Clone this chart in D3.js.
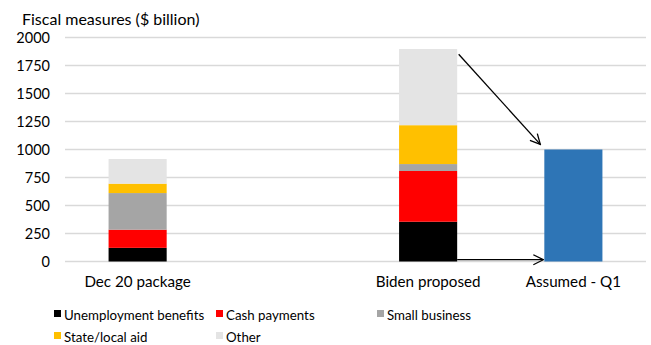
<!DOCTYPE html>
<html>
<head>
<meta charset="utf-8">
<script src="https://cdn.jsdelivr.net/npm/d3@7"></script>
<style>
  body { margin: 0; background: #fff; }
  svg text { font-family: Lato, "Open Sans", sans-serif; fill: #000; }
</style>
</head>
<body>
<div id="chart"></div>
<script>
// categories (one empty slot between Dec 20 and Biden)
var categories = ["Dec 20 package", "", "Biden proposed", "Assumed - Q1"];
var seriesNames = ["Unemployment benefits", "Cash payments", "Small business", "State/local aid", "Other"];
var seriesColors = ["#000000", "#ff0000", "#a5a5a5", "#ffc000", "#e4e4e4"];
// values per series for Dec 20 package, Biden proposed
var unemployment = [122, 355];
var cashPayments = [162, 453];
var smallBusiness = [327, 62];
var stateLocal = [84, 347];
var other = [220, 680];
var assumedQ1 = 1000;
var yTicks = [0, 250, 500, 750, 1000, 1250, 1500, 1750, 2000];

var w = 651;
var h = 345;
var plotLeft = 65, plotRight = 646, plotTop = 37.5, plotBottom = 261.5;

var svg = d3.select("#chart").append("svg").attr("width", w).attr("height", h);

var xScale = d3.scaleBand().domain(categories).range([plotLeft, plotRight]).paddingInner(0.6).paddingOuter(0.3);
var yScale = d3.scaleLinear().domain([0, 2000]).range([plotBottom, plotTop]);

// gridlines
svg.append("g")
  .selectAll("line")
  .data(yTicks)
  .enter()
  .append("line")
  .attr("x1", plotLeft)
  .attr("x2", plotRight)
  .attr("y1", function (d) { return yScale(d); })
  .attr("y2", function (d) { return yScale(d); })
  .attr("stroke", "#d9d9d9")
  .attr("stroke-width", 1.5);

// y axis labels
var yAxis = d3.axisLeft(yScale).tickValues(yTicks).tickSize(0).tickPadding(0).tickFormat(d3.format("d"));
svg.append("g")
  .attr("transform", "translate(50,0)")
  .call(yAxis)
  .call(function (g) { g.select(".domain").remove(); })
  .selectAll("text")
  .attr("fill", "#000")
  .style("font-size", "14.5px")
  .style("font-family", "Lato, sans-serif");

// stacked data
var table = [
  { cat: "Dec 20 package" },
  { cat: "Biden proposed" }
];
var allSeries = [unemployment, cashPayments, smallBusiness, stateLocal, other];
table.forEach(function (row, i) {
  seriesNames.forEach(function (s, j) { row[s] = allSeries[j][i]; });
});
var stacked = d3.stack().keys(seriesNames)(table);

svg.append("g")
  .selectAll("g")
  .data(stacked)
  .enter()
  .append("g")
  .attr("fill", function (d, i) { return seriesColors[i]; })
  .selectAll("rect")
  .data(function (d) { return d; })
  .enter()
  .append("rect")
  .attr("x", function (d) { return xScale(d.data.cat); })
  .attr("y", function (d) { return yScale(d[1]); })
  .attr("width", xScale.bandwidth())
  .attr("height", function (d) { return yScale(d[0]) - yScale(d[1]); });

// assumed Q1 bar
svg.append("rect")
  .attr("x", xScale("Assumed - Q1"))
  .attr("y", yScale(assumedQ1))
  .attr("width", xScale.bandwidth())
  .attr("height", yScale(0) - yScale(assumedQ1))
  .attr("fill", "#2e75b6");

// x labels
svg.append("g")
  .selectAll("text")
  .data(categories.filter(function (c) { return c !== ""; }))
  .enter()
  .append("text")
  .attr("x", function (d) { return xScale(d) + xScale.bandwidth() / 2; })
  .attr("y", 287)
  .attr("text-anchor", "middle")
  .style("font-size", "15.2px")
  .text(function (d) { return d; });

// title
svg.append("text")
  .attr("x", 22)
  .attr("y", 25)
  .style("font-size", "16px")
  .text("Fiscal measures ($ billion)");

// arrows
svg.append("defs").append("marker")
  .attr("id", "arrow")
  .attr("viewBox", "0 0 12 12")
  .attr("refX", 11)
  .attr("refY", 6)
  .attr("markerWidth", 12)
  .attr("markerHeight", 12)
  .attr("markerUnits", "userSpaceOnUse")
  .attr("orient", "auto")
  .append("path")
  .attr("d", "M1,1 L11,6 L1,11")
  .attr("fill", "none")
  .attr("stroke", "#000")
  .attr("stroke-width", 1.3);

var bidenRight = xScale("Biden proposed") + xScale.bandwidth();
var assumedLeft = xScale("Assumed - Q1");
var arrows = [
  { x1: bidenRight + 1.5, v1: 1850, x2: assumedLeft - 4, v2: 1046 },
  { x1: bidenRight, v1: 16, x2: assumedLeft - 1, v2: 16 }
];
svg.append("g")
  .selectAll("line")
  .data(arrows)
  .enter()
  .append("line")
  .attr("x1", function (d) { return d.x1; })
  .attr("y1", function (d) { return yScale(d.v1); })
  .attr("x2", function (d) { return d.x2; })
  .attr("y2", function (d) { return yScale(d.v2); })
  .attr("stroke", "#000")
  .attr("stroke-width", 1.3)
  .attr("marker-end", "url(#arrow)");

// legend
var legendPos = [[54, 315], [216, 315], [377, 315], [54, 337], [216, 337]];
var legend = svg.append("g")
  .selectAll("g")
  .data(seriesNames)
  .enter()
  .append("g")
  .attr("transform", function (d, i) { return "translate(" + legendPos[i][0] + "," + legendPos[i][1] + ")"; });

legend.append("rect")
  .attr("x", 0)
  .attr("y", -5)
  .attr("width", 7)
  .attr("height", 7)
  .attr("fill", function (d, i) { return seriesColors[i]; });

legend.append("text")
  .attr("x", 10)
  .attr("y", 4.5)
  .style("font-size", "13.3px")
  .text(function (d) { return d; });
</script>
</body>
</html>
